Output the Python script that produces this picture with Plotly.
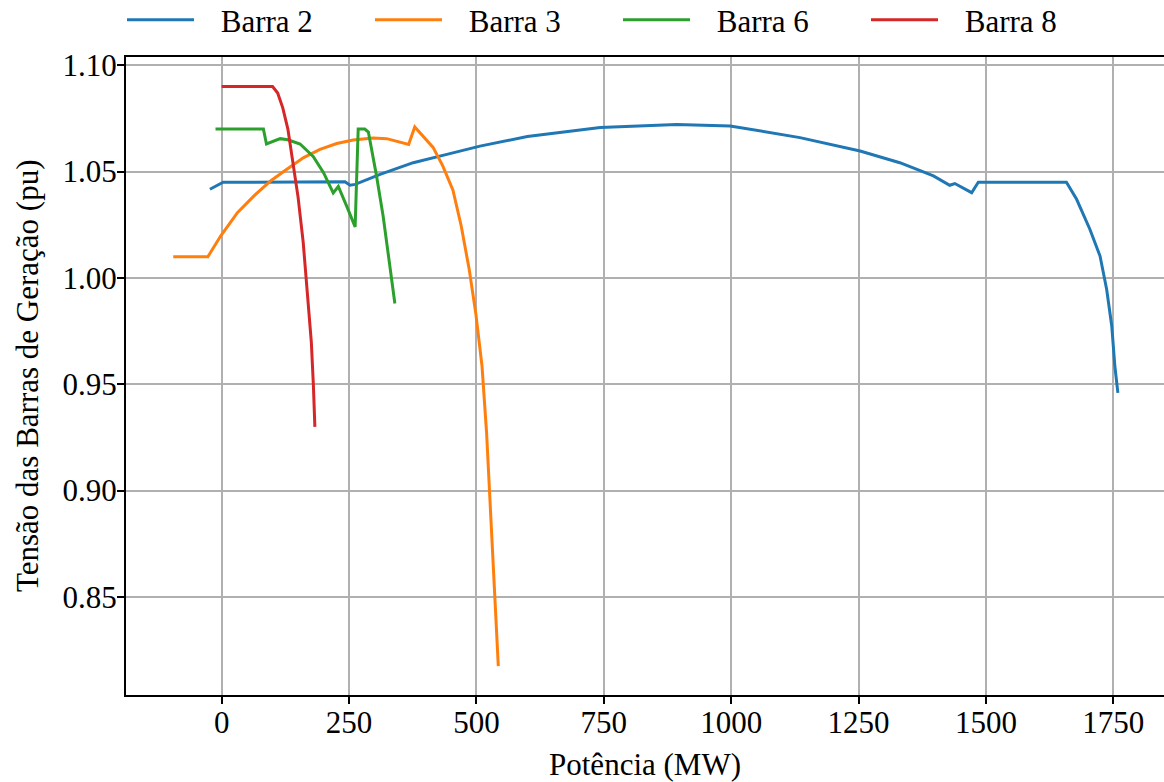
import plotly.graph_objects as go

# Barra 2
b2_x = [-23, 3, 50, 100, 150, 200, 242, 252, 262, 311, 376, 442, 507, 600, 743, 893, 998,
        1135, 1253, 1331, 1397, 1429, 1439, 1472, 1485, 1550, 1600, 1658, 1678, 1704, 1724,
        1737, 1747, 1753, 1759]
b2_y = [1.0417, 1.045, 1.045, 1.045, 1.045, 1.045, 1.0452, 1.0436, 1.044, 1.0487, 1.0542,
        1.0581, 1.062, 1.0665, 1.0707, 1.0722, 1.0715, 1.066, 1.0597, 1.0542, 1.048, 1.0436,
        1.0444, 1.0401, 1.045, 1.045, 1.045, 1.045, 1.037, 1.0229, 1.0103, 0.9946, 0.9774,
        0.9586, 0.946]

# Barra 3
b3_x = [-95, -27, -2, 31, 63, 96, 128, 161, 193, 226, 258, 297, 324, 367, 379, 415, 434,
        454, 470, 486, 499, 511, 520, 527, 535, 543]
b3_y = [1.010, 1.010, 1.0197, 1.0307, 1.0385, 1.0456, 1.0511, 1.0566, 1.0605, 1.0632,
        1.0649, 1.0658, 1.0655, 1.0628, 1.071, 1.0614, 1.0527, 1.0413, 1.0247, 1.0039,
        0.983, 0.9586, 0.9272, 0.8924, 0.8575, 0.8175]

# Barra 6
b6_x = [-12, 0, 40, 82, 88, 100, 115, 130, 154, 180, 200, 219, 229, 245, 262, 268, 281,
        288, 291, 304, 317, 330, 340]
b6_y = [1.07, 1.07, 1.07, 1.07, 1.063, 1.064, 1.0655, 1.065, 1.063, 1.057, 1.0495, 1.040,
        1.043, 1.034, 1.024, 1.070, 1.070, 1.0686, 1.065, 1.048, 1.029, 1.007, 0.988]

# Barra 8
b8_x = [0, 20, 40, 60, 80, 100, 110, 120, 130, 140, 150, 160, 170, 176, 180, 183]
b8_y = [1.09, 1.09, 1.09, 1.09, 1.09, 1.09, 1.087, 1.080, 1.070, 1.055, 1.038, 1.017,
        0.990, 0.970, 0.950, 0.930]

names = ["Barra 2", "Barra 3", "Barra 6", "Barra 8"]
colors = ["#1f77b4", "#ff7f0e", "#2ca02c", "#d62728"]
series = [(b2_x, b2_y), (b3_x, b3_y), (b6_x, b6_y), (b8_x, b8_y)]

x_ticks = [0, 250, 500, 750, 1000, 1250, 1500, 1750]
y_ticks = [0.85, 0.90, 0.95, 1.00, 1.05, 1.10]

x_title = "Potência (MW)"
y_title = "Tensão das Barras de Geração (pu)"

FONT = "Liberation Serif, Times New Roman, serif"
FS = 31

W, H = 1164, 782
L, T, B, R = 126, 57, 87, 0
PW = W - L - R
PH = H - T - B

fig = go.Figure()
for (xs, ys), n, c in zip(series, names, colors):
    fig.add_trace(go.Scatter(x=xs, y=ys, mode="lines", name="\u2002\u2009" + n,
                             line=dict(color=c, width=3)))

fig.update_layout(
    width=W, height=H,
    margin=dict(l=L, r=R, t=T, b=B, autoexpand=False),
    plot_bgcolor="white", paper_bgcolor="white",
    font=dict(family=FONT, size=FS, color="black"),
    showlegend=True,
    legend=dict(orientation="h", xref="container", x=122 / W, xanchor="left",
                yref="paper", y=1 + 37 / PH, yanchor="middle",
                entrywidth=166, entrywidthmode="pixels",
                itemwidth=67, font=dict(family=FONT, size=FS),
                bgcolor="rgba(0,0,0,0)"),
    annotations=[dict(text=y_title, xref="paper", yref="paper",
                      x=(27 - L) / PW, y=0.5, xanchor="center", yanchor="middle",
                      textangle=-90, showarrow=False,
                      font=dict(family=FONT, size=FS, color="black"))],
)
fig.update_xaxes(
    range=[-187.7, 1849.5], tickvals=x_ticks, ticktext=[str(v) for v in x_ticks],
    showgrid=True, gridcolor="#b0b0b0", gridwidth=1.5,
    showline=True, linecolor="black", linewidth=2, mirror=True,
    ticks="outside", ticklen=7, tickwidth=1.5, tickcolor="black",
    ticklabelstandoff=-8,
    zeroline=False, automargin=True,
    title=dict(text=x_title, font=dict(family=FONT, size=FS), standoff=15),
)
fig.update_yaxes(
    range=[0.8039, 1.1039], tickvals=y_ticks, ticktext=[f"{v:.2f}" for v in y_ticks],
    showgrid=True, gridcolor="#b0b0b0", gridwidth=1.5,
    showline=True, linecolor="black", linewidth=2, mirror=False,
    ticks="outside", ticklen=7, tickwidth=1.5, tickcolor="black",
    ticklabelstandoff=-6,
    zeroline=False, automargin=True,
)

fig.write_html("out.html", config={"displayModeBar": False},
               post_script="document.body.style.margin='0';")
